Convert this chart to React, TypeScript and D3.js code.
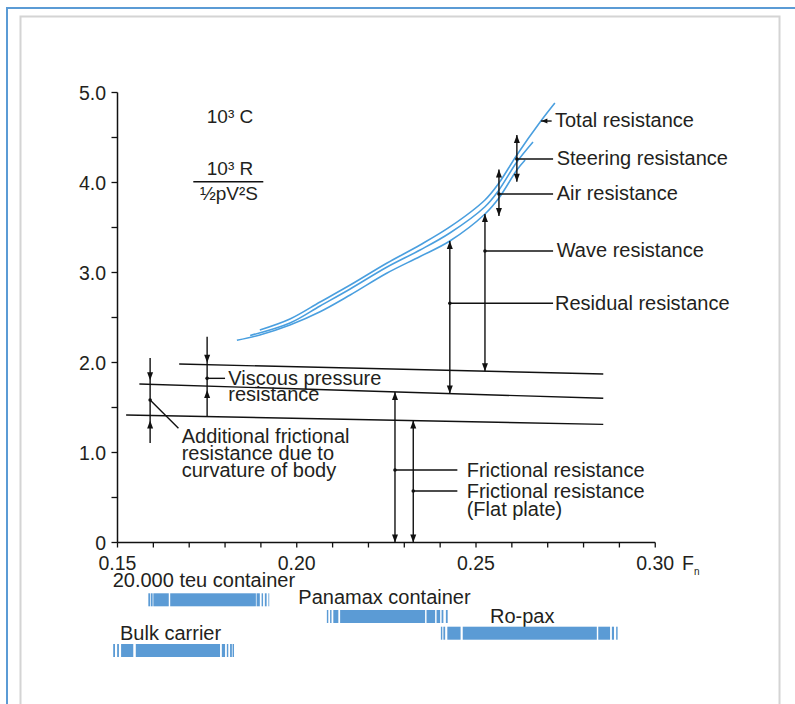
import React from 'react';
import * as d3 from 'd3';

// ---------- data ----------
const xTickValues = d3.range(0, 16).map((i) => +(0.15 + i * 0.01).toFixed(2));
const xLabelValues = [0.15, 0.2, 0.25, 0.3];
const xLabelTexts = ['0.15', '0.20', '0.25', '0.30'];
const yTickValues = d3.range(0, 11).map((i) => i * 0.5);
const yLabelValues = [0, 1, 2, 3, 4, 5];
const yLabelTexts = ['0', '1.0', '2.0', '3.0', '4.0', '5.0'];

// blue resistance curves [Fn, 10^3 C]
const totalCurve: [number, number][] = [
  [0.1897, 2.361], [0.1981, 2.483], [0.2065, 2.672], [0.2149, 2.861], [0.2252, 3.106],
  [0.2344, 3.306], [0.2427, 3.506], [0.2525, 3.806], [0.2564, 3.994], [0.2614, 4.306],
  [0.2681, 4.683], [0.272, 4.883],
];
const airCurve: [number, number][] = [
  [0.187, 2.3], [0.1981, 2.439], [0.2065, 2.628], [0.2149, 2.817], [0.2252, 3.061],
  [0.2344, 3.25], [0.2427, 3.439], [0.2525, 3.731], [0.2564, 3.917], [0.2614, 4.228],
  [0.2659, 4.45],
];
const residualCurve: [number, number][] = [
  [0.1833, 2.247], [0.1897, 2.306], [0.1981, 2.417], [0.2065, 2.564], [0.2149, 2.75],
  [0.2252, 2.994], [0.2344, 3.178], [0.2427, 3.35], [0.2525, 3.65], [0.2564, 3.828],
  [0.2614, 4.139], [0.2637, 4.25],
];

// straight black lines
const viscousLine: [number, number][] = [[0.1672, 1.983], [0.2855, 1.872]];
const curvatureLine: [number, number][] = [[0.1561, 1.761], [0.2855, 1.602]];
const flatPlateLine: [number, number][] = [[0.1524, 1.417], [0.2855, 1.313]];

// ship speed ranges (segments in Fn)
const shipNames = ['20.000 teu container', 'Panamax container', 'Ro-pax', 'Bulk carrier'];
const teuSegments: [number, number][] = [
  [0.1586, 0.1591], [0.1593, 0.1598], [0.16, 0.1643], [0.1647, 0.1886],
  [0.1888, 0.1897], [0.1902, 0.1906], [0.1911, 0.1916], [0.1921, 0.1923],
];
const panamaxSegments: [number, number][] = [
  [0.2084, 0.2088], [0.2093, 0.2097], [0.2102, 0.2116], [0.2121, 0.2358],
  [0.2362, 0.2386], [0.239, 0.24], [0.2404, 0.2409], [0.2416, 0.2421],
];
const roPaxSegments: [number, number][] = [
  [0.2402, 0.2406], [0.2409, 0.2414], [0.242, 0.2457], [0.2463, 0.2837],
  [0.2841, 0.2874], [0.2879, 0.2885], [0.2891, 0.2895],
];
const bulkSegments: [number, number][] = [
  [0.1488, 0.1493], [0.1499, 0.1504], [0.151, 0.1544], [0.1551, 0.1786],
  [0.1791, 0.18], [0.1805, 0.1809], [0.1814, 0.1819], [0.1821, 0.1825],
];
const shipSegments = [teuSegments, panamaxSegments, roPaxSegments, bulkSegments];

// ---------- helpers ----------
const W = 795;
const H = 704;
const x = d3.scaleLinear().domain([0.15, 0.3]).range([117.5, 655.25]);
const y = d3.scaleLinear().domain([0, 5]).range([542.5, 92.5]);

const interp = (pts: [number, number][], fn: number) => {
  for (let i = 0; i < pts.length - 1; i++) {
    const [x0, y0] = pts[i];
    const [x1, y1] = pts[i + 1];
    if (fn >= x0 && fn <= x1) return y0 + ((fn - x0) / (x1 - x0)) * (y1 - y0);
  }
  const [a, b] = [pts[pts.length - 2], pts[pts.length - 1]];
  return a[1] + ((fn - a[0]) / (b[0] - a[0])) * (b[1] - a[1]);
};

const curveGen = d3
  .line<[number, number]>()
  .x((d) => x(d[0]))
  .y((d) => y(d[1]))
  .curve(d3.curveCatmullRom.alpha(0.5));
const straight = d3
  .line<[number, number]>()
  .x((d) => x(d[0]))
  .y((d) => y(d[1]));

const FONT = '"Liberation Sans", Arial, Helvetica, sans-serif';
const TXT = '#231f20';
const BLUE = '#4a9fdf';
const BAR = '#5b9bd5';

const Head = ({ px, py, dir }: { px: number; py: number; dir: 'up' | 'down' | 'left' }) => {
  const L = 8;
  const w = 3;
  let d = '';
  if (dir === 'up') d = `M${px},${py} L${px - w},${py + L} L${px + w},${py + L} Z`;
  else if (dir === 'down') d = `M${px},${py} L${px - w},${py - L} L${px + w},${py - L} Z`;
  else d = `M${px},${py} L${px + 6},${py - 2.5} L${px + 6},${py + 2.5} Z`;
  return <path d={d} fill="#111" />;
};

const VLine = ({ fx, v0, v1 }: { fx: number; v0: number; v1: number }) => (
  <line x1={x(fx)} x2={x(fx)} y1={y(v0)} y2={y(v1)} stroke="#111" strokeWidth={1.4} />
);

const Dot = ({ fx, v }: { fx: number; v: number }) => <circle cx={x(fx)} cy={y(v)} r={1.8} fill="#111" />;

const Leader = ({ fx0, fx1, v }: { fx0: number; fx1: number; v: number }) => (
  <line x1={x(fx0)} x2={x(fx1)} y1={y(v)} y2={y(v)} stroke="#111" strokeWidth={1.4} />
);

export default function App() {
  const labelEnd = 0.2715; // Fn where right leaders end
  const lowLabelEnd = 0.2448;

  // arrow positions (Fn)
  const fAdd = 0.1591;
  const fVisc = 0.175;
  const fRes = 0.2427;
  const fWave = 0.2525;
  const fAir = 0.2564;
  const fSteer = 0.2614;
  const fFric = 0.2274;
  const fFlat = 0.2325;

  const rows = [593.3, 610, 626.7, 644];
  const labelPos: [number, number][] = [
    [112.7, 587],
    [298.3, 604.3],
    [490, 622.7],
    [120, 640],
  ];

  return (
    <svg
      width={W}
      height={H}
      style={{ position: 'absolute', left: 0, top: 0, background: '#fff' }}
      fontFamily={FONT}
    >
      <rect x={0} y={0} width={W} height={H} fill="#fff" />
      {/* frames */}
      <rect x={7} y={8} width={W + 10} height={H + 10} fill="none" stroke="#5b9bd5" strokeWidth={2} />
      <rect x={20.5} y={16.5} width={759} height={H + 10} fill="none" stroke="#d4d4d4" strokeWidth={2} />

      {/* axes */}
      <line x1={x(0.15)} x2={x(0.3)} y1={y(0)} y2={y(0)} stroke="#111" strokeWidth={1.5} />
      <line x1={x(0.15)} x2={x(0.15)} y1={y(0)} y2={y(5)} stroke="#111" strokeWidth={1.5} />
      {xTickValues.map((v) => (
        <line key={'xt' + v} x1={x(v)} x2={x(v)} y1={y(0)} y2={y(0) + 5} stroke="#111" strokeWidth={1.3} />
      ))}
      {yTickValues.map((v) => (
        <line key={'yt' + v} x1={x(0.15) - 6} x2={x(0.15)} y1={y(v)} y2={y(v)} stroke="#111" strokeWidth={1.3} />
      ))}
      {xLabelValues.map((v, i) => (
        <text key={'xl' + v} x={x(v)} y={570} textAnchor="middle" fontSize={19.5} fill={TXT}>
          {xLabelTexts[i]}
        </text>
      ))}
      {yLabelValues.map((v, i) => (
        <text key={'yl' + v} x={106} y={y(v) + 7} textAnchor="end" fontSize={19.5} fill={TXT}>
          {yLabelTexts[i]}
        </text>
      ))}
      <text x={682} y={570} fontSize={19.5} fill={TXT}>
        F
      </text>
      <text x={694} y={575} fontSize={10} fill={TXT}>
        n
      </text>

      {/* formula */}
      <text x={230} y={123.3} textAnchor="middle" fontSize={19} fill={TXT}>
        10³ C
      </text>
      <text x={230} y={175} textAnchor="middle" fontSize={19} fill={TXT}>
        10³ R
      </text>
      <line x1={193.3} x2={263.3} y1={181.7} y2={181.7} stroke="#111" strokeWidth={1.4} />
      <text x={229} y={200} textAnchor="middle" fontSize={19} fill={TXT}>
        ½pV²S
      </text>

      {/* blue curves */}
      {[residualCurve, airCurve, totalCurve].map((c, i) => (
        <path key={'c' + i} d={curveGen(c) || ''} fill="none" stroke={BLUE} strokeWidth={1.6} />
      ))}

      {/* black lines */}
      {[viscousLine, curvatureLine, flatPlateLine].map((l, i) => (
        <path key={'l' + i} d={straight(l) || ''} fill="none" stroke="#111" strokeWidth={1.4} />
      ))}

      {/* additional frictional resistance arrow */}
      <VLine fx={fAdd} v0={2.05} v1={1.106} />
      <Head px={x(fAdd)} py={y(interp(curvatureLine, fAdd)) - 4} dir="down" />
      <Head px={x(fAdd)} py={y(interp(flatPlateLine, fAdd)) + 5} dir="up" />
      <Dot fx={fAdd} v={1.583} />
      <line x1={x(fAdd)} y1={y(1.583)} x2={x(0.167)} y2={y(1.269)} stroke="#111" strokeWidth={1.4} />
      <text fontSize={20} fill={TXT}>
        <tspan x={181.7} y={442.7}>Additional frictional</tspan>
        <tspan x={181.7} y={459.7}>resistance due to</tspan>
        <tspan x={181.7} y={476.7}>curvature of body</tspan>
      </text>

      {/* viscous pressure */}
      <VLine fx={fVisc} v0={2.287} v1={interp(flatPlateLine, fVisc)} />
      <Head px={x(fVisc)} py={y(interp(viscousLine, fVisc)) - 2} dir="down" />
      <Head px={x(fVisc)} py={y(interp(curvatureLine, fVisc)) + 4} dir="up" />
      <Dot fx={fVisc} v={1.824} />
      <Leader fx0={fVisc} fx1={0.18} v={1.824} />
      <text fontSize={20} fill={TXT}>
        <tspan x={228.3} y={385}>Viscous pressure</tspan>
        <tspan x={228.3} y={401}>resistance</tspan>
      </text>

      {/* residual */}
      <VLine fx={fRes} v0={interp(residualCurve, fRes)} v1={interp(curvatureLine, fRes)} />
      <Head px={x(fRes)} py={y(interp(residualCurve, fRes))} dir="up" />
      <Head px={x(fRes)} py={y(interp(curvatureLine, fRes))} dir="down" />
      <Dot fx={fRes} v={2.658} />
      <Leader fx0={fRes} fx1={labelEnd} v={2.658} />
      <text x={555} y={310} fontSize={20} fill={TXT}>
        Residual resistance
      </text>

      {/* wave */}
      <VLine fx={fWave} v0={interp(residualCurve, fWave)} v1={interp(viscousLine, fWave)} />
      <Head px={x(fWave)} py={y(interp(residualCurve, fWave))} dir="up" />
      <Head px={x(fWave)} py={y(interp(viscousLine, fWave))} dir="down" />
      <Dot fx={fWave} v={3.239} />
      <Leader fx0={fWave} fx1={labelEnd} v={3.239} />
      <text x={556.7} y={256.7} fontSize={20} fill={TXT}>
        Wave resistance
      </text>

      {/* air */}
      <VLine fx={fAir} v0={4.144} v1={3.628} />
      <Head px={x(fAir)} py={y(4.144)} dir="up" />
      <Head px={x(fAir)} py={y(3.628)} dir="down" />
      <Dot fx={fAir} v={3.872} />
      <Leader fx0={fAir} fx1={labelEnd} v={3.872} />
      <text x={556.7} y={200} fontSize={20} fill={TXT}>
        Air resistance
      </text>

      {/* steering */}
      <VLine fx={fSteer} v0={4.528} v1={4.009} />
      <Head px={x(fSteer)} py={y(4.528)} dir="up" />
      <Head px={x(fSteer)} py={y(4.009)} dir="down" />
      <Dot fx={fSteer} v={4.261} />
      <Leader fx0={fSteer} fx1={labelEnd} v={4.261} />
      <text x={556.7} y={165} fontSize={20} fill={TXT}>
        Steering resistance
      </text>

      {/* total */}
      <Head px={x(0.2681) + 0.5} py={y(4.683)} dir="left" />
      <line x1={x(0.2681)} x2={x(0.2711)} y1={y(4.683)} y2={y(4.683)} stroke="#111" strokeWidth={1.4} />
      <text x={555} y={127.3} fontSize={20} fill={TXT}>
        Total resistance
      </text>

      {/* frictional */}
      <VLine fx={fFric} v0={interp(curvatureLine, fFric)} v1={0} />
      <Head px={x(fFric)} py={y(interp(curvatureLine, fFric))} dir="up" />
      <Head px={x(fFric)} py={y(0)} dir="down" />
      <Dot fx={fFric} v={0.806} />
      <Leader fx0={fFric} fx1={lowLabelEnd} v={0.806} />
      <text x={466.7} y={476.7} fontSize={20} fill={TXT}>
        Frictional resistance
      </text>

      {/* flat plate */}
      <VLine fx={fFlat} v0={interp(flatPlateLine, fFlat)} v1={0} />
      <Head px={x(fFlat)} py={y(interp(flatPlateLine, fFlat))} dir="up" />
      <Head px={x(fFlat)} py={y(0)} dir="down" />
      <Dot fx={fFlat} v={0.572} />
      <Leader fx0={fFlat} fx1={lowLabelEnd} v={0.572} />
      <text fontSize={20} fill={TXT}>
        <tspan x={466.7} y={498.3}>Frictional resistance</tspan>
        <tspan x={466.7} y={516}>(Flat plate)</tspan>
      </text>

      {/* ship ranges */}
      {shipNames.map((name, i) => (
        <g key={name}>
          <text x={labelPos[i][0]} y={labelPos[i][1]} fontSize={20} fill={TXT}>
            {name}
          </text>
          {shipSegments[i].map((s, j) => (
            <rect
              key={j}
              x={x(s[0])}
              y={rows[i]}
              width={Math.max(0.8, x(s[1]) - x(s[0]))}
              height={13}
              fill={BAR}
            />
          ))}
        </g>
      ))}
    </svg>
  );
}
